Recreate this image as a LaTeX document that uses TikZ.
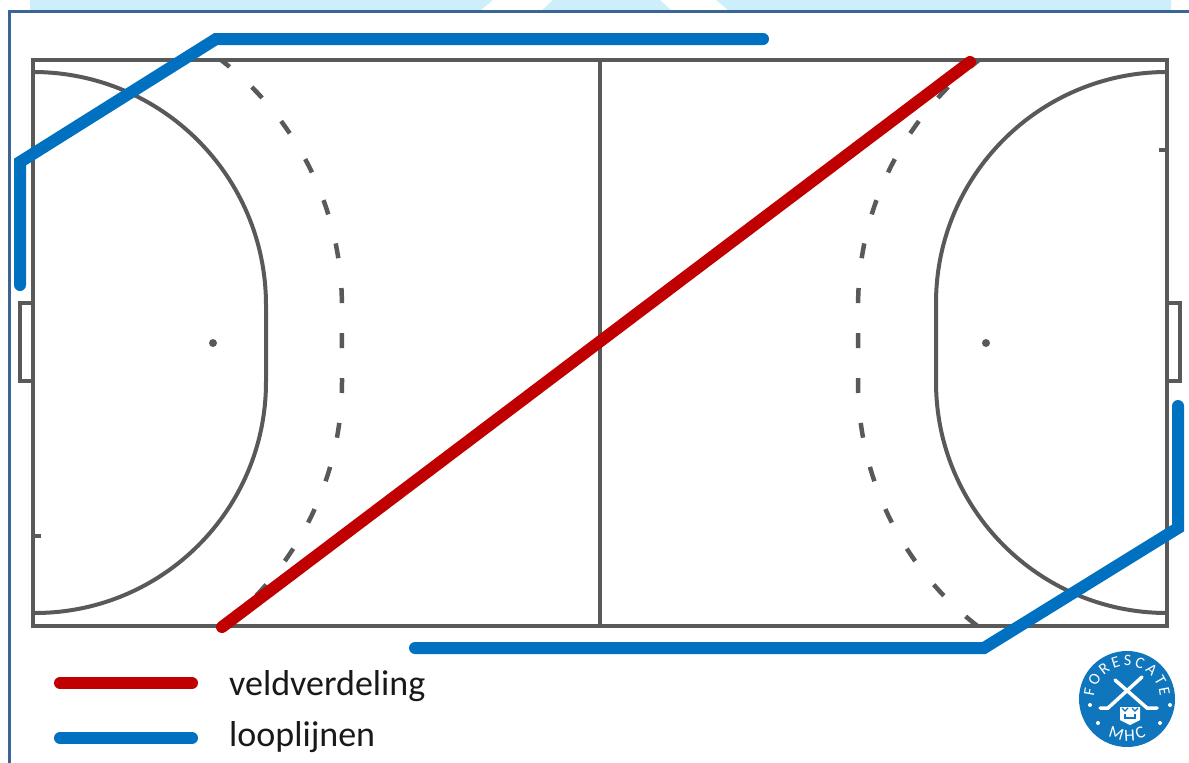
\documentclass[tikz,border=0pt]{standalone}
\usepackage{fontspec}
\setmainfont{Carlito}
\usetikzlibrary{decorations.text}
\definecolor{fieldgrey}{HTML}{595959}
\definecolor{splitred}{HTML}{C00000}
\definecolor{runblue}{HTML}{0070C0}
\definecolor{framenavy}{HTML}{3A6595}
\definecolor{bandblue}{HTML}{CCEFFB}
\definecolor{logoblue}{HTML}{0F75BC}
\begin{document}
\begin{tikzpicture}[
   x=1pt, y=1pt,
   fieldline/.style={draw=fieldgrey, line width=4pt},
   arcline/.style={draw=fieldgrey, line width=4pt},
   dashline/.style={draw=fieldgrey, line width=4.5pt, dash pattern=on 15pt off 30pt, dash phase=4pt},
   splitline/.style={draw=splitred, line width=12pt, line cap=round},
   runline/.style={draw=runblue, line width=12pt, line cap=round, miter limit=4},
   legendtext/.style={anchor=base west, inner sep=0pt, font=\fontsize{36}{40}\selectfont, text=black!90},
   stick/.style={draw=white, line width=3.5pt, line cap=round}]
  \useasboundingbox (0,0) rectangle (1189,-763);
  % band and frame
  \fill[bandblue] (30,0) -- (30,-10) -- (481,-10) -- (493,0) -- cycle;
  \fill[bandblue] (553,0) -- (542,-10) -- (671,-10) -- (660,0) -- cycle;
  \fill[bandblue] (716,0) -- (728,-10) -- (1171,-10) -- (1171,0) -- cycle;
  \draw[framenavy, line width=3.5pt] (9.5,-763) -- (9.5,-11.5) -- (1189,-11.5);
  % field
  \draw[fieldline] (33,-60) rectangle (1167,-626);
  \draw[fieldline] (600,-60) -- (600,-626);
  \draw[fieldline] (33,-303) -- (20,-303) -- (20,-381) -- (33,-381);
  \draw[fieldline] (1167,-303) -- (1180,-303) -- (1180,-381) -- (1167,-381);
  \draw[fieldline] (33,-536) -- (41,-536);
  \draw[fieldline] (1167,-150) -- (1159,-150);
  \draw[arcline] (33,-72) arc[start angle=90, end angle=0, radius=233] -- (266,-382)
    arc[start angle=0, end angle=-90, radius=231];
  \draw[arcline] (1167,-72) arc[start angle=90, end angle=180, radius=231] -- (936,-382)
    arc[start angle=180, end angle=270, radius=231];
  \draw[dashline] (221,-60) arc[start angle=52.5, end angle=0, radius=309] -- (342,-382)
    arc[start angle=0, end angle=-52.5, radius=309];
  \draw[dashline] (979,-60) arc[start angle=127.5, end angle=180, radius=309] -- (858,-382)
    arc[start angle=180, end angle=232.5, radius=309];
  \fill[fieldgrey] (213,-343) circle (4);
  \fill[fieldgrey] (986,-343) circle (4);
  % lines on top
  \coordinate (splitstart) at (222,-627);
  \coordinate (splitend) at (970,-62);
  \draw[splitline] (splitstart) -- (splitend);
  \draw[runline] (20,-285) -- (20,-162) -- (216,-39) -- (763,-39);
  \draw[runline] (1178,-406) -- (1178,-528) -- (984,-648) -- (415,-648);
  % legend
  \coordinate (redkey) at (60,-683);
  \coordinate (bluekey) at (60,-738);
  \node[legendtext] (veld) at (229,-695) {veldverdeling};
  \node[legendtext] (loop) at (229,-746) {looplijnen};
  \draw[splitline] (redkey) -- (192,-683);
  \draw[runline] (bluekey) -- (192,-738);
  % logo
  \fill[logoblue] (1127,-699) circle (48);
  \draw[stick] (1115,-680) -- (1147,-708) -- (1157,-708);
  \draw[stick] (1142,-677) -- (1108,-708) -- (1100,-708);
  \fill[white] (1120,-707) -- (1140,-707) -- (1140,-720) -- (1130,-725) -- (1120,-720) -- cycle;
  \draw[logoblue, line width=1.3pt] (1125,-714) -- (1125,-718) -- (1135,-718) -- (1135,-714);
  \draw[logoblue, line width=1.3pt] (1122,-708) -- (1125,-711) -- (1128,-708) (1132,-708) -- (1135,-711) -- (1138,-708);
  \foreach \dotx/\doty in {1090/-705, 1170/-705, 1098/-723, 1160/-723}
    \fill[white] (\dotx,\doty) circle (2);
  \path[decorate, decoration={text along path, text align=fit to path,
      text={|\fontsize{16}{18}\selectfont\color{white}|FORESCATE}}]
    (1094.1,-696.7) arc[start angle=176, end angle=4, radius=33];
  \path[decorate, decoration={text along path, text align=fit to path,
      text={|\fontsize{17}{18}\selectfont\color{white}|MHC}}]
    (1108,-736.4) arc[start angle=243, end angle=297, radius=42];
\end{tikzpicture}
\end{document}
